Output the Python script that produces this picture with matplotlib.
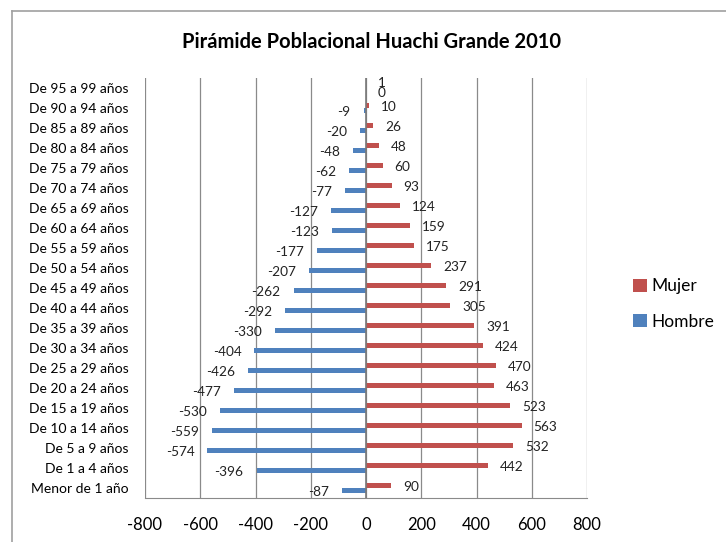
import numpy as np
import matplotlib
matplotlib.use("Agg")
import matplotlib.pyplot as plt
from matplotlib.lines import Line2D

plt.rcParams['font.family'] = ['Lato', 'DejaVu Sans']

grupos = ["Menor de 1 año", "De 1 a 4 años", "De 5 a 9 años", "De 10 a 14 años",
          "De 15 a 19 años", "De 20 a 24 años", "De 25 a 29 años", "De 30 a 34 años",
          "De 35 a 39 años", "De 40 a 44 años", "De 45 a 49 años", "De 50 a 54 años",
          "De 55 a 59 años", "De 60 a 64 años", "De 65 a 69 años", "De 70 a 74 años",
          "De 75 a 79 años", "De 80 a 84 años", "De 85 a 89 años", "De 90 a 94 años",
          "De 95 a 99 años"]
mujer = [90, 442, 532, 563, 523, 463, 470, 424, 391, 305, 291, 237, 175, 159, 124,
         93, 60, 48, 26, 10, 1]
hombre = [-87, -396, -574, -559, -530, -477, -426, -404, -330, -292, -262, -207, -177,
          -123, -127, -77, -62, -48, -20, -9, 0]
xticks = [-800, -600, -400, -200, 0, 200, 400, 600, 800]

rojo = "#C0504D"
azul = "#4F81BD"

fig = plt.figure(figsize=(7.26, 5.42), dpi=100)
ax = fig.add_axes([145/726, 44/542, 442/726, 420/542])

y = np.arange(len(grupos))
h = 0.25
ax.barh(y + h/2, mujer, height=h, color=rojo, label="Mujer", zorder=3)
ax.barh(y - h/2, hombre, height=h, color=azul, label="Hombre", zorder=3)

# etiquetas de valores
for yy, v in zip(y + h/2, mujer):
    dy = 2.5 if v < 5 else -1.5
    ax.annotate(str(v), (v, yy), xytext=(12, dy), textcoords="offset pixels",
                ha="left", va="center", fontsize=9.8, color="#222222")
for yy, v in zip(y - h/2, hombre):
    if v >= 0:
        ax.annotate(str(v), (v, yy), xytext=(12, -2.5), textcoords="offset pixels",
                    ha="left", va="center", fontsize=9.8, color="#222222")
    else:
        ax.annotate(str(v), (v, yy), xytext=(-13, -1.5), textcoords="offset pixels",
                    ha="right", va="center", fontsize=9.8, color="#222222")

ax.set_xlim(-800, 800)
ax.set_ylim(-0.5, len(grupos) - 0.5)
ax.set_xticks(xticks)
ax.set_xticklabels([str(t) for t in xticks], fontsize=12)
ax.set_yticks(y)
ax.set_yticklabels(grupos, fontsize=10)
ax.tick_params(axis="both", length=0)
ax.tick_params(axis="y", pad=12)
ax.tick_params(axis="x", pad=14)

for t in xticks:
    ax.axvline(t, color="#8a8a8a", lw=0.9, zorder=1)
ax.axvline(0, color="#7a7a7a", lw=1.2, zorder=4)
for s in ["top", "right", "left"]:
    ax.spines[s].set_visible(False)
ax.spines["bottom"].set_color("#8a8a8a")

fig.text(372/726, 1 - 42/542, "Pirámide Poblacional Huachi Grande 2010",
         ha="center", va="center", fontsize=14.5, fontweight="bold")

ax.legend(loc="center left", bbox_to_anchor=(617/726, 1 - 304/542),
          bbox_transform=fig.transFigure, frameon=False, fontsize=12.5,
          handlelength=0.8, handleheight=0.8, handletextpad=0.3, labelspacing=1.1)

# borde del gráfico
fig.add_artist(Line2D([12/726, 1], [1 - 11/542, 1 - 11/542], color="#a0a0a0", lw=1.2))
fig.add_artist(Line2D([12/726, 12/726], [0, 1 - 11/542], color="#a0a0a0", lw=1.2))

fig.savefig("out.png", dpi=100)
